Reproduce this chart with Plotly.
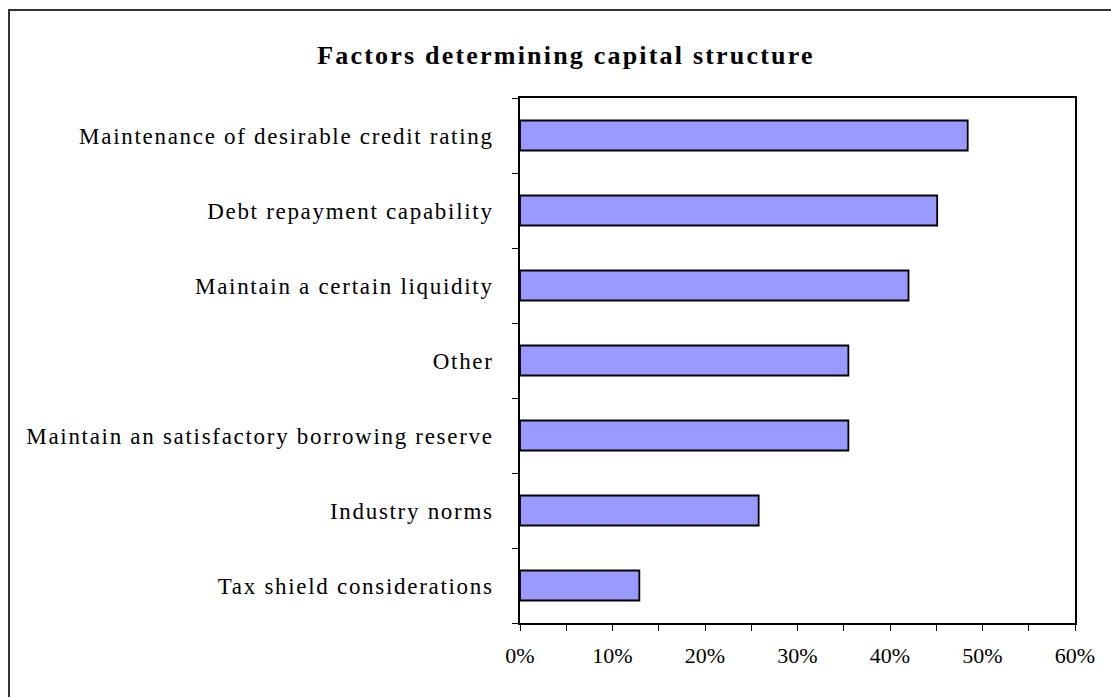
import plotly.graph_objects as go

categories = [
    "Maintenance of desirable credit rating",
    "Debt repayment capability",
    "Maintain a certain liquidity",
    "Other",
    "Maintain an satisfactory borrowing reserve",
    "Industry norms",
    "Tax shield considerations",
]
values = [48.4, 45.1, 42.0, 35.5, 35.5, 25.8, 12.9]
x_ticks = [0, 10, 20, 30, 40, 50, 60]
x_tick_labels = ["0%", "10%", "20%", "30%", "40%", "50%", "60%"]
title_text = "Factors determining capital structure"

W, H = 1111, 697
L, R, T, B = 520, 36, 98, 74
pw, ph = W - L - R, H - T - B

serif = "Liberation Serif, Times New Roman, serif"


def spaced(s, px):
    return '<span style="letter-spacing:%.1fpx">%s</span>' % (px, s)


fig = go.Figure(
    go.Bar(
        x=values,
        y=categories,
        orientation="h",
        marker=dict(color="#9999FF", line=dict(color="#000000", width=1.8)),
        width=0.4,
        hoverinfo="x+y",
    )
)

fig.update_layout(
    width=W,
    height=H,
    margin=dict(l=L, r=R, t=T, b=B, pad=0),
    paper_bgcolor="white",
    plot_bgcolor="white",
    showlegend=False,
    title=dict(
        text="<b>" + spaced(title_text, 2.2) + "</b>",
        font=dict(family=serif, size=26, color="black"),
        x=566 / W,
        xanchor="center",
        y=1 - 55 / H,
        yanchor="middle",
    ),
    font=dict(family=serif, color="black"),
)

fig.update_xaxes(
    range=[0, 60],
    tickvals=x_ticks,
    ticktext=x_tick_labels,
    ticks="outside",
    ticklen=6,
    tickcolor="black",
    tickwidth=1,
    minor=dict(dtick=5, ticks="outside", ticklen=6, tickcolor="black", tickwidth=1),
    showline=True,
    linecolor="black",
    linewidth=1.5,
    mirror=True,
    showgrid=False,
    zeroline=False,
    tickfont=dict(family=serif, size=22, color="black"),
    ticklabelstandoff=6,
    fixedrange=True,
)

fig.update_yaxes(
    autorange="reversed",
    tickvals=categories,
    ticktext=[spaced(c, 1.7) for c in categories],
    tickson="boundaries",
    ticks="outside",
    ticklen=6,
    tickcolor="black",
    tickwidth=1,
    showline=True,
    linecolor="black",
    linewidth=1.5,
    mirror=True,
    showgrid=False,
    tickfont=dict(family=serif, size=23, color="black"),
    ticklabelstandoff=20,
    fixedrange=True,
)

# outer chart border (extends past right/bottom edge)
fig.add_shape(
    type="rect",
    xref="paper",
    yref="paper",
    x0=(9 - L) / pw,
    x1=(1116 - L) / pw,
    y0=1 - (702 - T) / ph,
    y1=1 - (10 - T) / ph,
    line=dict(color="#333333", width=2),
    fillcolor="rgba(0,0,0,0)",
    layer="above",
)

fig.write_html("out.html")
